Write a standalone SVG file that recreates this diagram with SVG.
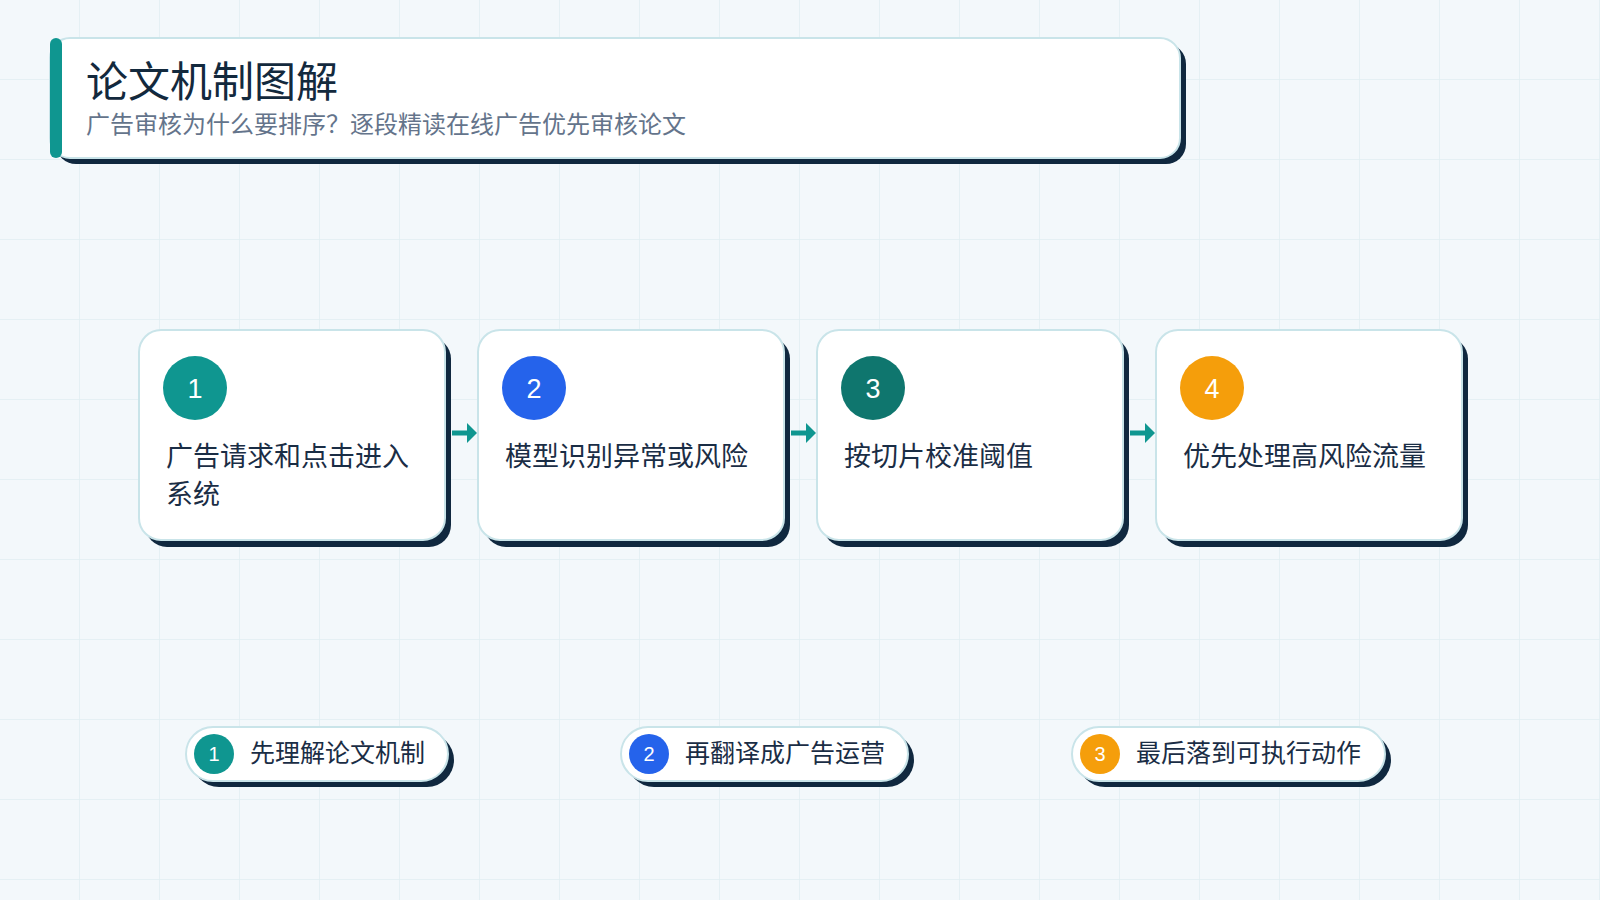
<svg xmlns="http://www.w3.org/2000/svg" width="1600" height="900" viewBox="0 0 1600 900">
  <defs>
    <pattern id="grid" width="80" height="80" patternUnits="userSpaceOnUse">
      <path d="M80 0V80M0 80H80" fill="none" stroke="#e1eef2" stroke-width="1.5"/>
    </pattern>
    <marker id="ah" viewBox="0 0 10 20" refX="1" refY="10" markerWidth="10" markerHeight="20" markerUnits="userSpaceOnUse" orient="auto">
      <path d="M0 0L10 10L0 20Z" fill="#0f9690"/>
    </marker>
  </defs>
  <style>
    text { font-family: "Noto Sans CJK SC", "Noto Sans", sans-serif; }
    .shadow { fill: #10283f; }
    .card { fill: #ffffff; stroke: #c9e4e9; stroke-width: 2; }
    .title { font-size: 42px; font-weight: 400; fill: #13293d; }
    .sub { font-size: 24px; fill: #64748b; }
    .label { font-size: 27px; fill: #1a2d45; }
    .num { font-family: "Liberation Sans", Arial, sans-serif; font-size: 27px; fill: #ffffff; text-anchor: middle; }
    .pnum { font-family: "Liberation Sans", Arial, sans-serif; font-size: 20px; fill: #ffffff; text-anchor: middle; }
    .plabel { font-size: 25px; fill: #1a2d45; }
    .conn { stroke: #0f9690; stroke-width: 5; fill: none; marker-end: url(#ah); }
  </style>
  <rect width="1600" height="900" fill="#f3f8fb"/>
  <rect width="1600" height="900" fill="url(#grid)"/>

  <g id="header">
    <rect class="shadow" x="56" y="44" width="1130" height="120" rx="20"/>
    <rect class="card" x="50" y="38" width="1130" height="120" rx="20"/>
    <rect x="50" y="38" width="12" height="120" rx="6" fill="#0f9690"/>
    <text class="title" x="86" y="97">论文机制图解</text>
    <text class="sub" x="86" y="133">广告审核为什么要排序？逐段精读在线广告优先审核论文</text>
  </g>

  <g id="connectors">
    <line class="conn" x1="452" y1="433" x2="468" y2="433"/>
    <line class="conn" x1="791" y1="433" x2="807" y2="433"/>
    <line class="conn" x1="1130" y1="433" x2="1146" y2="433"/>
  </g>

  <g id="step1">
    <rect class="shadow" x="145" y="337" width="306" height="210" rx="22"/>
    <rect class="card" x="139" y="330" width="306" height="210" rx="22"/>
    <circle cx="195" cy="388" r="32" fill="#0f9690"/>
    <text class="num" x="195" y="398">1</text>
    <text class="label" x="166" y="466">广告请求和点击进入</text>
    <text class="label" x="166" y="504">系统</text>
  </g>
  <g id="step2">
    <rect class="shadow" x="484" y="337" width="306" height="210" rx="22"/>
    <rect class="card" x="478" y="330" width="306" height="210" rx="22"/>
    <circle cx="534" cy="388" r="32" fill="#2563eb"/>
    <text class="num" x="534" y="398">2</text>
    <text class="label" x="505" y="466">模型识别异常或风险</text>
  </g>
  <g id="step3">
    <rect class="shadow" x="823" y="337" width="306" height="210" rx="22"/>
    <rect class="card" x="817" y="330" width="306" height="210" rx="22"/>
    <circle cx="873" cy="388" r="32" fill="#0f766e"/>
    <text class="num" x="873" y="398">3</text>
    <text class="label" x="844" y="466">按切片校准阈值</text>
  </g>
  <g id="step4">
    <rect class="shadow" x="1162" y="337" width="306" height="210" rx="22"/>
    <rect class="card" x="1156" y="330" width="306" height="210" rx="22"/>
    <circle cx="1212" cy="388" r="32" fill="#f59e0b"/>
    <text class="num" x="1212" y="398">4</text>
    <text class="label" x="1183" y="466">优先处理高风险流量</text>
  </g>

  <g id="pill1">
    <rect class="shadow" x="192" y="733" width="262" height="54" rx="27"/>
    <rect class="card" x="186" y="727" width="262" height="54" rx="27"/>
    <circle cx="214" cy="754" r="20" fill="#0f9690"/>
    <text class="pnum" x="214" y="761">1</text>
    <text class="plabel" x="250" y="762">先理解论文机制</text>
  </g>
  <g id="pill2">
    <rect class="shadow" x="627" y="733" width="287" height="54" rx="27"/>
    <rect class="card" x="621" y="727" width="287" height="54" rx="27"/>
    <circle cx="649" cy="754" r="20" fill="#2563eb"/>
    <text class="pnum" x="649" y="761">2</text>
    <text class="plabel" x="685" y="762">再翻译成广告运营</text>
  </g>
  <g id="pill3">
    <rect class="shadow" x="1078" y="733" width="313" height="54" rx="27"/>
    <rect class="card" x="1072" y="727" width="313" height="54" rx="27"/>
    <circle cx="1100" cy="754" r="20" fill="#f59e0b"/>
    <text class="pnum" x="1100" y="761">3</text>
    <text class="plabel" x="1136" y="762">最后落到可执行动作</text>
  </g>
</svg>
